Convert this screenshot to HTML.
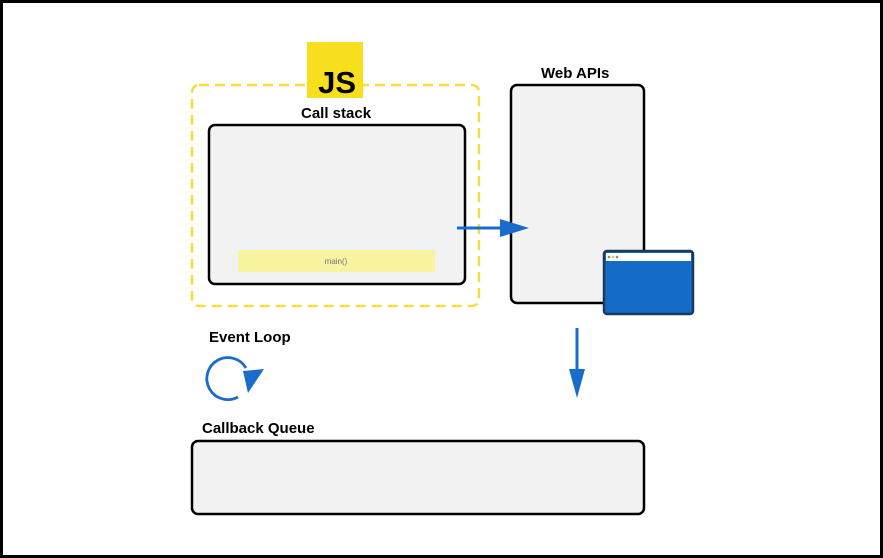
<!DOCTYPE html>
<html><head><style>
html,body{margin:0;padding:0;background:#fff}
body{width:883px;height:558px;position:relative;overflow:hidden;font-family:"Liberation Sans",sans-serif}
.frame{position:absolute;left:0;top:0;width:877px;height:552px;border:3px solid #000}
.t{position:absolute;font-weight:bold;font-size:15px;color:#000;white-space:nowrap}
</style></head><body>
<div class="frame"></div>
<svg width="883" height="558" style="position:absolute;left:0;top:0">
  <rect x="192" y="85" width="287" height="221" rx="7" fill="none" stroke="#f3dd40" stroke-width="2.5" stroke-dasharray="10,6"/>
  <rect x="307" y="42" width="56" height="56" fill="#f7df1e"/>
  <text x="356" y="93" font-family="Liberation Sans" font-weight="bold" font-size="31" text-anchor="end" fill="#000">JS</text>
  <rect x="209" y="125" width="256" height="159" rx="6" fill="#f2f2f2" stroke="#000" stroke-width="2.5"/>
  <rect x="238" y="250" width="197" height="22" fill="#f7f3a0"/>
  <text x="336" y="264" font-family="Liberation Sans" font-size="8" text-anchor="middle" fill="#777">main()</text>
  <rect x="511" y="85" width="133" height="218" rx="6" fill="#f2f2f2" stroke="#000" stroke-width="2.5"/>
  <line x1="457" y1="228" x2="502" y2="228" stroke="#1a6ccc" stroke-width="3"/>
  <polygon points="500,219 529,228 500,237" fill="#1a6ccc"/>
  <rect x="604" y="251" width="89" height="63" rx="3" fill="#156cc6" stroke="#1c3a5e" stroke-width="2.5"/>
  <rect x="606" y="253" width="85" height="8" fill="#fff"/>
  <circle cx="609" cy="257" r="1.3" fill="#888"/><circle cx="613" cy="257" r="1.3" fill="#e8c820"/><circle cx="617" cy="257" r="1.3" fill="#888"/>
  <line x1="577" y1="328" x2="577" y2="372" stroke="#1a6ccc" stroke-width="3"/>
  <polygon points="569,369 585,369 577,398" fill="#1a6ccc"/>
  <path d="M 238 397 A 21 21 0 1 1 246 368" fill="none" stroke="#1a6ccc" stroke-width="2.8"/>
  <polygon points="243,371 264,369 248,393" fill="#1a6ccc"/>
  <rect x="192" y="441" width="452" height="73" rx="6" fill="#f2f2f2" stroke="#000" stroke-width="2.5"/>
</svg>
<div class="t" style="left:301px;top:105px">Call stack</div>
<div class="t" style="left:541px;top:65px">Web APIs</div>
<div class="t" style="left:209px;top:329px">Event Loop</div>
<div class="t" style="left:202px;top:420px">Callback Queue</div>
</body></html>
